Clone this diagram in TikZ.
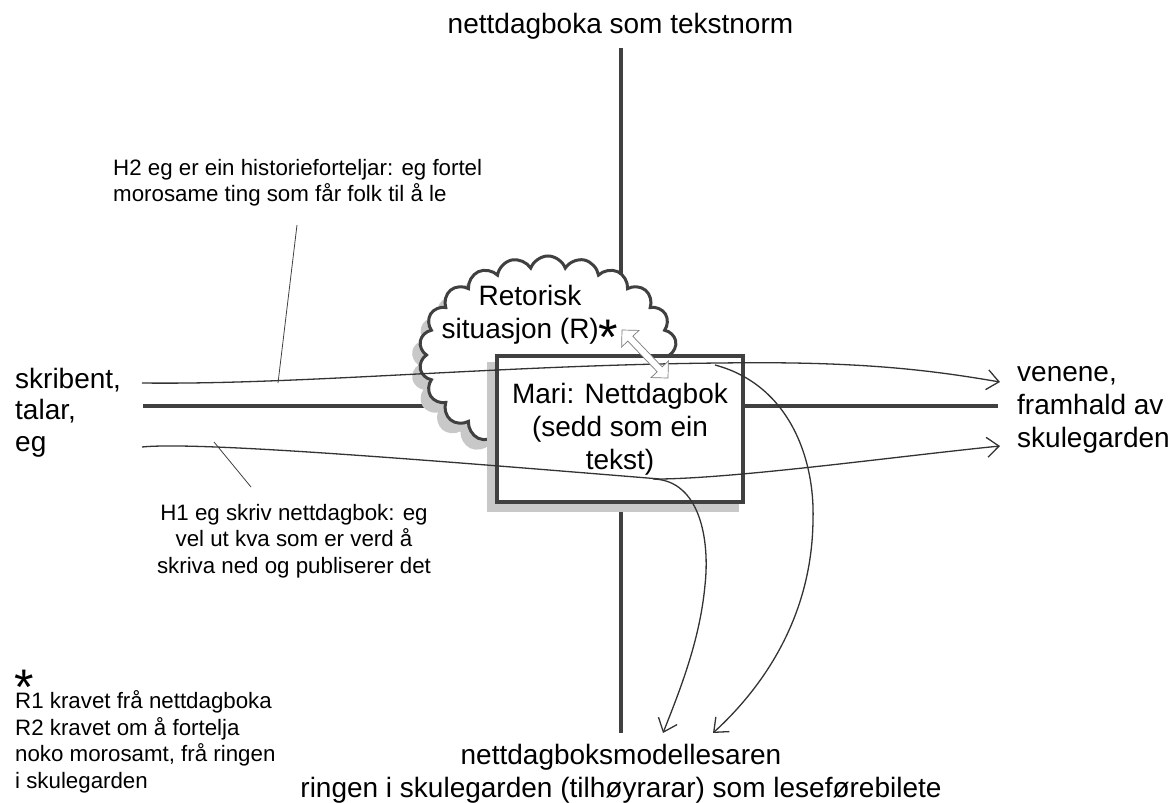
\documentclass[tikz,border=0pt]{standalone}
\usepackage{fontspec}
\setmainfont{Liberation Sans}
\usetikzlibrary{shapes.symbols,arrows.meta}
\definecolor{ink}{HTML}{404040}
\definecolor{shade}{HTML}{C8C8C8}
\definecolor{linegray}{HTML}{333333}
\definecolor{arrowgray}{HTML}{7A7A7A}

\tikzset{
  big/.style={font=\fontsize{28}{33}\selectfont, inner sep=0pt},
  small/.style={font=\fontsize{22.3}{26.5}\selectfont, inner sep=0pt},
  axis/.style={ink, line width=4pt},
  flow/.style={linegray, line width=1.3pt, -{Straight Barb[length=12pt,width=20pt]}},
  leader/.style={ink, line width=0.8pt},
  puffy/.style={cloud, cloud puffs=22, cloud puff arc=140, aspect=1.3,
    minimum width=258pt, minimum height=198pt, inner sep=0pt},
  bigstar/.style={font=\fontsize{50}{50}\selectfont, inner sep=0pt},
  hollow/.style={draw=arrowgray, fill=white, line width=0.7pt, line join=miter},
}

\begin{document}
\begin{tikzpicture}[x=1pt,y=-1pt]
\useasboundingbox (0,0) rectangle (1173,803);

% the two axes
\coordinate (vtop) at (621,48);
\coordinate (vbot) at (621,733);
\coordinate (hleft) at (143,406);
\coordinate (hright) at (998,406);
\draw[axis] (vtop) -- (vbot);
\draw[axis] (hleft) -- (hright);

% rhetorical situation cloud with its shadow
\node[puffy, fill=shade] (cloudshadow) at (540,365) {};
\node[puffy, fill=white, draw=ink, line width=3pt] (cloud) at (548,355) {};

% the text box with its shadow
\node[fill=shade, minimum width=252pt, minimum height=150pt, inner sep=0pt] (boxshadow) at (613,437) {};
\node[big, draw=ink, line width=4pt, fill=white, minimum width=246pt, minimum height=146pt, align=center] (box) at (620,429)
  {Mari: Nettdagbok\\(sedd som ein\\tekst)};

% labels (multi-line nodes are placed by the baseline of their last line)
\node[big, anchor=base] (norm) at (620.5,33) {nettdagboka som tekstnorm};
\node[big, anchor=base west] (skribent) at (15,388) {skribent,};
\node[big, anchor=base west] (talar) at (15,419) {talar,};
\node[big, anchor=base west] (eg) at (15,451) {eg};
\node[big, anchor=base west, align=left] (venene) at (1017,447) {venene,\\framhald av\\skulegarden};
\node[big, anchor=base, align=center] (reader) at (621,797)
  {nettdagboksmodellesaren\\ringen i skulegarden (tilhøyrarar) som leseførebilete};
\node[big, anchor=base, align=center] (retorisk) at (530,338)
  {Retorisk\\situasjon (R)\raisebox{-16pt}{\fontsize{50}{50}\selectfont *}};
\node[small, anchor=base west, align=left] (h2) at (113,201.7)
  {H2 eg er ein historieforteljar: eg fortel\\morosame ting som får folk til å le};
\node[small, anchor=base, align=center] (h1) at (294,573)
  {H1 eg skriv nettdagbok: eg\\vel ut kva som er verd å\\skriva ned og publiserer det};
\node[bigstar, anchor=base west] (note) at (14.5,704) {*};
\node[small, anchor=base west, align=left] (rlist) at (15,788)
  {R1 kravet frå nettdagboka\\R2 kravet om å fortelja\\noko morosamt, frå ringen\\i skulegarden};

% flows between writer, text and readers
\coordinate (u0) at (142,383);
\coordinate (u1) at (1000,382);
\coordinate (l0) at (142,447);
\coordinate (l1) at (1000,446);
\coordinate (a0) at (653,479);
\coordinate (a1) at (663,733);
\coordinate (b0) at (715,365);
\coordinate (b1) at (713,733);
\draw[flow] (u0) .. controls (300,385) and (500,365) .. (720,363)
  .. controls (860,361) and (930,370) .. (u1);
\draw[flow] (l0) .. controls (200,441) and (450,462) .. (660,479)
  .. controls (740,478) and (900,456) .. (l1);
\draw[flow] (a0) .. controls (700,480) and (710,540) .. (705,585)
  .. controls (700,640) and (680,690) .. (a1);
\draw[flow] (b0) .. controls (790,385) and (815,460) .. (813,520)
  .. controls (812,620) and (760,690) .. (b1);

% leaders from the hypotheses to their paths
\coordinate (h2foot) at (278,383);
\coordinate (h2head) at (297,225);
\coordinate (h1foot) at (214,442);
\coordinate (h1head) at (251,487);
\draw[leader] (h2head) -- (h2foot);
\draw[leader] (h1foot) -- (h1head);

% hollow two-way arrow between situation and text
\draw[hollow] (622,330) -- (621.6,347.0) -- (627.8,341.1) -- (657.2,371.8)
  -- (651.0,377.6) -- (668,378) -- (668.4,361.0) -- (662.2,366.9)
  -- (632.8,336.2) -- (639.0,330.4) -- cycle;
\end{tikzpicture}
\end{document}
